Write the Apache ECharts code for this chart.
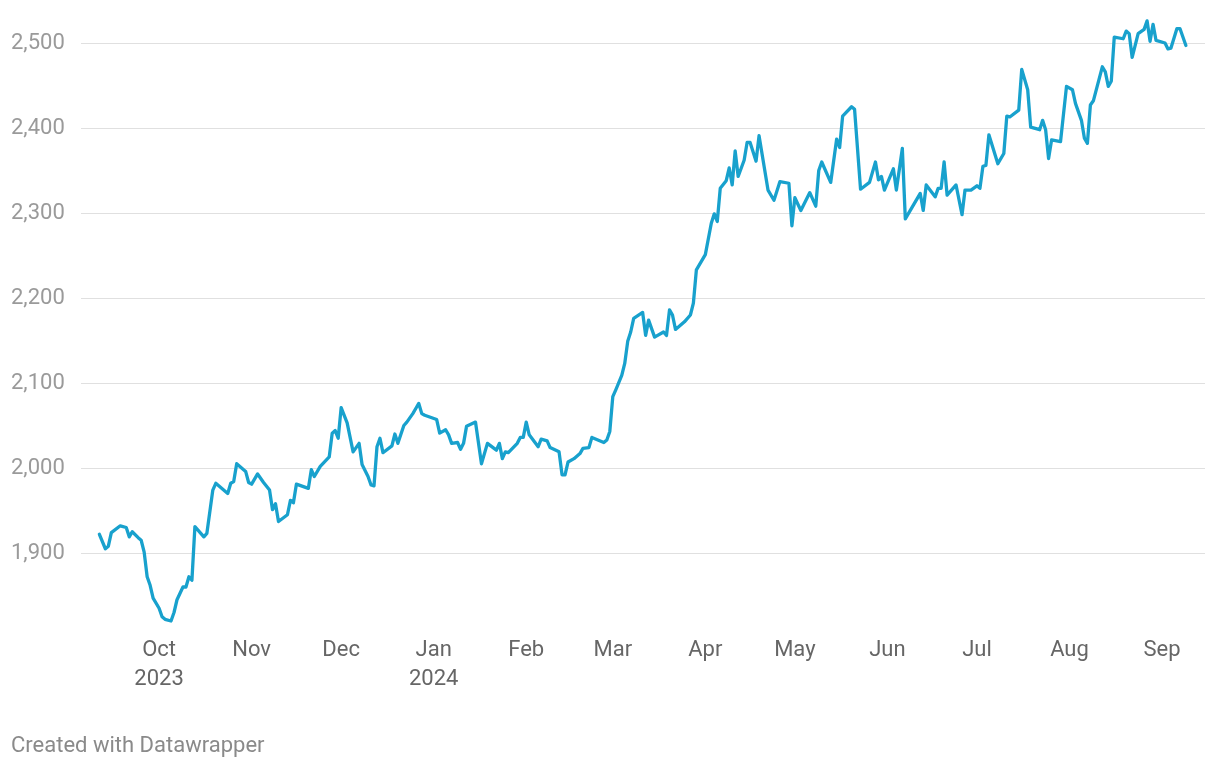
<!DOCTYPE html>
<html><head><meta charset="utf-8">
<script src="https://cdn.jsdelivr.net/npm/echarts@6/dist/echarts.min.js"></script>
<style>html,body{margin:0;padding:0;background:#fff}#c{width:1220px;height:768px}</style>
</head><body><div id="c"></div>
<script>
const dates = [
'2023-09-11','2023-09-13','2023-09-14','2023-09-15','2023-09-18','2023-09-20','2023-09-21','2023-09-22','2023-09-24','2023-09-25','2023-09-26','2023-09-27','2023-09-28','2023-09-29',
'2023-10-01','2023-10-02','2023-10-03','2023-10-05','2023-10-06','2023-10-07','2023-10-09','2023-10-10','2023-10-11','2023-10-12','2023-10-13','2023-10-16','2023-10-17','2023-10-19','2023-10-20','2023-10-24','2023-10-25','2023-10-26','2023-10-27','2023-10-30','2023-10-31',
'2023-11-01','2023-11-03','2023-11-05','2023-11-07','2023-11-08','2023-11-09','2023-11-10','2023-11-13','2023-11-14','2023-11-15','2023-11-16','2023-11-20','2023-11-21','2023-11-22','2023-11-24','2023-11-27','2023-11-28','2023-11-29','2023-11-30',
'2023-12-01','2023-12-03','2023-12-05','2023-12-07','2023-12-08','2023-12-10','2023-12-11','2023-12-12','2023-12-13','2023-12-14','2023-12-15','2023-12-18','2023-12-19','2023-12-20','2023-12-22','2023-12-23','2023-12-25','2023-12-26','2023-12-27','2023-12-28','2023-12-29',
'2024-01-02','2024-01-03','2024-01-05','2024-01-06','2024-01-07','2024-01-09','2024-01-10','2024-01-11','2024-01-12','2024-01-15','2024-01-17','2024-01-19','2024-01-22','2024-01-23','2024-01-24','2024-01-25','2024-01-26','2024-01-29','2024-01-30','2024-01-31',
'2024-02-01','2024-02-02','2024-02-05','2024-02-06','2024-02-08','2024-02-09','2024-02-12','2024-02-13','2024-02-14','2024-02-15','2024-02-17','2024-02-19','2024-02-20','2024-02-22','2024-02-23','2024-02-27','2024-02-28','2024-02-29',
'2024-03-01','2024-03-02','2024-03-04','2024-03-05','2024-03-06','2024-03-07','2024-03-08','2024-03-11','2024-03-12','2024-03-13','2024-03-15','2024-03-18','2024-03-19','2024-03-20','2024-03-21','2024-03-22','2024-03-25','2024-03-27','2024-03-28','2024-03-29',
'2024-04-01','2024-04-03','2024-04-04','2024-04-05','2024-04-06','2024-04-08','2024-04-09','2024-04-10','2024-04-11','2024-04-12','2024-04-14','2024-04-15','2024-04-16','2024-04-18','2024-04-19','2024-04-22','2024-04-24','2024-04-26','2024-04-29','2024-04-30',
'2024-05-01','2024-05-03','2024-05-06','2024-05-08','2024-05-09','2024-05-10','2024-05-13','2024-05-15','2024-05-16','2024-05-17','2024-05-20','2024-05-21','2024-05-23','2024-05-26','2024-05-28','2024-05-29','2024-05-30','2024-05-31',
'2024-06-03','2024-06-04','2024-06-06','2024-06-07','2024-06-12','2024-06-13','2024-06-14','2024-06-17','2024-06-18','2024-06-19','2024-06-20','2024-06-21','2024-06-24','2024-06-26','2024-06-27','2024-06-29',
'2024-07-01','2024-07-02','2024-07-03','2024-07-04','2024-07-05','2024-07-08','2024-07-10','2024-07-11','2024-07-12','2024-07-15','2024-07-16','2024-07-18','2024-07-19','2024-07-22','2024-07-23','2024-07-24','2024-07-25','2024-07-26','2024-07-29','2024-07-31',
'2024-08-02','2024-08-03','2024-08-05','2024-08-06','2024-08-07','2024-08-08','2024-08-09','2024-08-12','2024-08-13','2024-08-14','2024-08-15','2024-08-16','2024-08-19','2024-08-20','2024-08-21','2024-08-22','2024-08-24','2024-08-26','2024-08-27','2024-08-28','2024-08-29','2024-08-30',
'2024-09-02','2024-09-03','2024-09-04','2024-09-06','2024-09-07','2024-09-09'
];
const values = [
1922,1905,1908,1924,1932,1930,1919,1925,1918,1915,1901,1872,1862,1847,
1835,1825,1822,1820,1830,1845,1860,1860,1872,1868,1931,1919,1923,1974,1982,1970,1982,1984,2005,1996,1983,
1981,1993,1983,1974,1951,1958,1937,1945,1962,1959,1981,1976,1998,1990,2002,2013,2041,2044,2035,
2071,2053,2019,2029,2004,1990,1980,1979,2025,2035,2018,2026,2040,2029,2050,2054,2064,2070,2076,2064,2062,
2057,2041,2045,2039,2029,2030,2022,2029,2049,2054,2005,2029,2021,2029,2011,2019,2018,2029,2036,2036,
2054,2039,2025,2034,2032,2024,2019,1992,1992,2007,2011,2017,2023,2024,2036,2030,2033,2043,
2084,2092,2109,2123,2149,2160,2176,2183,2156,2174,2154,2160,2156,2186,2180,2163,2172,2180,2194,2233,
2251,2288,2299,2290,2329,2338,2353,2333,2373,2343,2362,2383,2383,2361,2391,2327,2315,2337,2335,2285,
2318,2303,2324,2308,2350,2360,2336,2387,2377,2414,2425,2422,2328,2336,2360,2339,2343,2327,
2352,2327,2376,2293,2323,2303,2333,2319,2329,2329,2360,2321,2333,2298,2327,2327,
2332,2329,2355,2356,2392,2358,2370,2414,2413,2421,2469,2445,2401,2398,2409,2398,2364,2386,2384,2449,
2445,2429,2409,2388,2382,2427,2432,2472,2466,2449,2455,2507,2505,2514,2511,2483,2511,2516,2526,2502,2522,2503,
2500,2493,2494,2517,2517,2497
];
const yTicks = [1900, 2000, 2100, 2200, 2300, 2400, 2500];
const xTicks = ['2023-10-01','2023-11-01','2023-12-01','2024-01-01','2024-02-01','2024-03-01','2024-04-01','2024-05-01','2024-06-01','2024-07-01','2024-08-01','2024-09-01'];
const xTickLabels = ['Oct\n2023','Nov','Dec','Jan\n2024','Feb','Mar','Apr','May','Jun','Jul','Aug','Sep'];

function ts(s){ const p = s.split('-').map(Number); return Date.UTC(p[0], p[1]-1, p[2]); }
const DAY = 86400000;
const labelMap = {};
xTicks.forEach((s,i)=>{ labelMap[ts(s)] = xTickLabels[i]; });
const seriesData = dates.map((d,i)=>[ts(d), values[i]]);

const chart = echarts.init(document.getElementById('c'), null, {renderer:'canvas'});
chart.setOption({
  animation: false,
  backgroundColor: '#ffffff',
  textStyle: { fontFamily: 'Roboto' },
  title: {
    text: 'Created with Datawrapper',
    left: 11, top: 735, padding: 0,
    textStyle: { fontFamily: 'Roboto', fontSize: 22, fontWeight: 'normal', color: '#8a8a8a' }
  },
  grid: { left: 81, right: 15, top: 17.5, bottom: 138.5, containLabel: false },
  xAxis: {
    type: 'value',
    min: ts('2023-10-01') - 26.16*DAY,
    max: ts('2023-10-01') + 350.4*DAY,
    axisLine: { show: false },
    axisTick: { show: false, customValues: xTicks.map(ts) },
    splitLine: { show: false },
    axisLabel: {
      customValues: xTicks.map(ts),
      formatter: function(v){ return labelMap[v] || ''; },
      fontFamily: 'Roboto', fontSize: 22, color: '#666666', lineHeight: 29,
      margin: 6, hideOverlap: false
    }
  },
  yAxis: {
    type: 'value',
    min: 1810, max: 2530,
    axisLine: { show: false },
    axisTick: { show: false, customValues: yTicks },
    splitLine: { show: true, lineStyle: { color: '#e0e0e0', width: 1 } },
    axisLabel: {
      customValues: yTicks,
      formatter: function(v){ return v.toLocaleString('en-US'); },
      fontFamily: 'Roboto', fontSize: 22, color: '#9a9a9a',
      align: 'left', margin: 70
    }
  },
  series: [{
    type: 'line',
    data: seriesData,
    showSymbol: false,
    symbol: 'none',
    lineStyle: { color: '#18a1cd', width: 3.3, join: 'round', cap: 'round' },
    itemStyle: { color: '#18a1cd' },
    z: 3
  }]
});
</script>
</body></html>
